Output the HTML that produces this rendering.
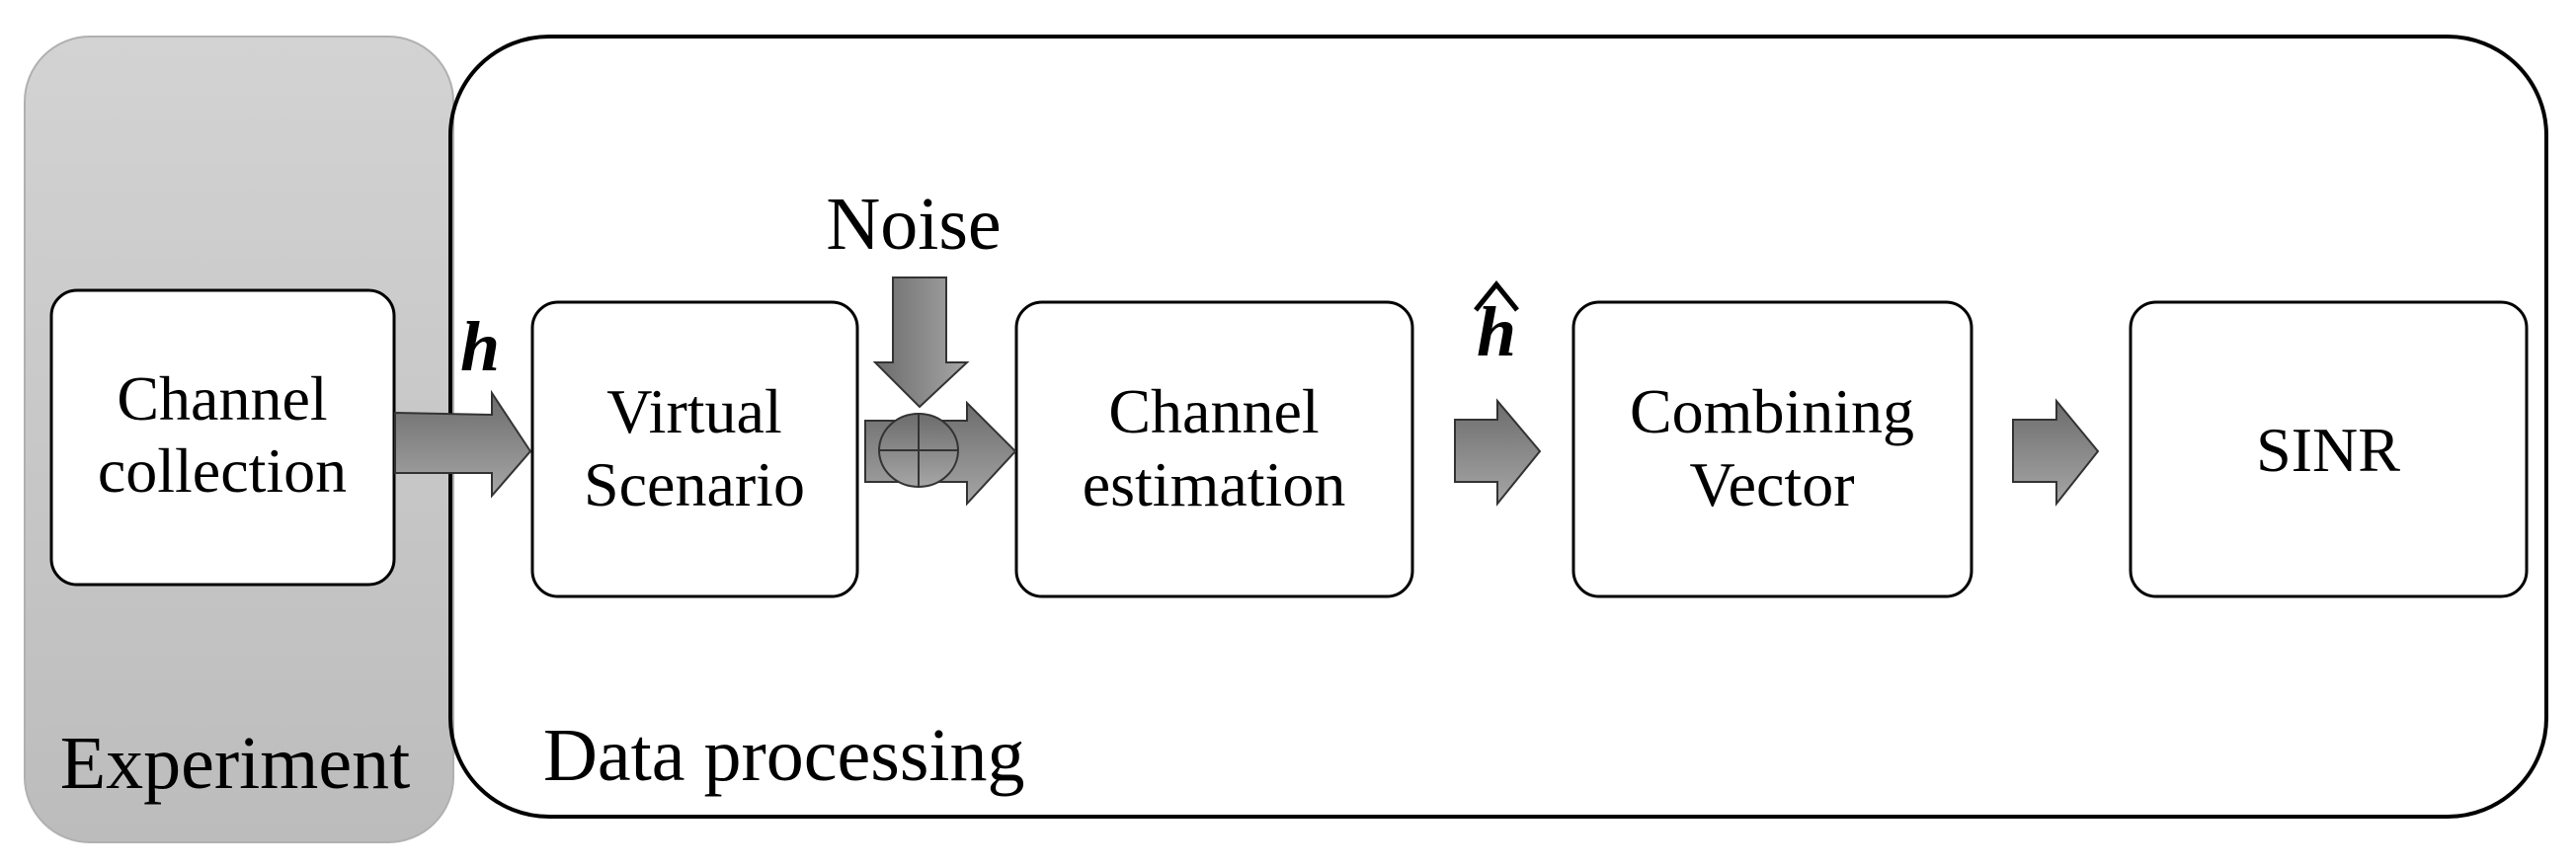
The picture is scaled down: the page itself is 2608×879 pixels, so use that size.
<!DOCTYPE html>
<html><head><meta charset="utf-8"><style>
html,body{margin:0;padding:0;background:#fff;}
svg{display:block;}
text{font-family:"Liberation Serif",serif;fill:#000;}
</style></head><body>
<svg width="2608" height="879" viewBox="0 0 2608 879" xmlns="http://www.w3.org/2000/svg">
<defs>
<linearGradient id="exp" x1="0" y1="0" x2="0" y2="1">
<stop offset="0" stop-color="#d3d3d3"/><stop offset="1" stop-color="#bcbcbc"/></linearGradient>
<linearGradient id="arr" x1="0" y1="0" x2="0" y2="1">
<stop offset="0" stop-color="#6c6c6c"/><stop offset="1" stop-color="#a6a6a6"/></linearGradient>
<linearGradient id="arrv" x1="0" y1="0" x2="1" y2="0">
<stop offset="0" stop-color="#6c6c6c"/><stop offset="1" stop-color="#a6a6a6"/></linearGradient>
</defs>
<rect x="25" y="37" width="434" height="816" rx="66" fill="url(#exp)" stroke="#b0b0b0" stroke-width="2"/>
<rect x="456" y="37" width="2122" height="790" rx="100" fill="none" stroke="#000" stroke-width="4"/>

<g fill="#fff" stroke="#000" stroke-width="3">
<rect x="52" y="294" width="347" height="298" rx="26"/>
<rect x="539" y="306" width="329" height="298" rx="26"/>
<rect x="1029" y="306" width="401" height="298" rx="26"/>
<rect x="1593" y="306" width="403" height="298" rx="26"/>
<rect x="2157" y="306" width="401" height="298" rx="26"/>
</g>

<g stroke="#333" stroke-width="2">
<polygon points="400,418 498,420 498,398 537,457 498,502 498,479 400,479" fill="url(#arr)"/>
<polygon points="904,281 958,281 958,367 979,367 931,412 886,367 904,367" fill="url(#arrv)"/>
<polygon points="876,426 979,426 979,408 1028,457 979,510 979,488 876,488" fill="url(#arr)"/>
<ellipse cx="930" cy="456" rx="40" ry="37" fill="url(#arr)"/>
<line x1="890" y1="456" x2="970" y2="456"/>
<line x1="930" y1="419" x2="930" y2="493"/>
<polygon points="1473,425 1516,425 1516,406 1559,457 1516,510 1516,488 1473,488" fill="url(#arr)"/>
<polygon points="2038,425 2082,425 2082,406 2124,457 2082,510 2082,488 2038,488" fill="url(#arr)"/>
</g>

<g font-size="64" text-anchor="middle">
<text x="225" y="425">Channel</text>
<text x="225" y="498">collection</text>
<text x="703" y="438">Virtual</text>
<text x="703" y="512">Scenario</text>
<text x="1229" y="438">Channel</text>
<text x="1229" y="512">estimation</text>
<text x="1794" y="438">Combining</text>
<text x="1794" y="512">Vector</text>
<text x="2357" y="477">SINR</text>
</g>
<text x="925" y="252" font-size="76" text-anchor="middle">Noise</text>
<text x="486" y="375" font-size="72" font-weight="bold" font-style="italic" text-anchor="middle">h</text>
<text x="1515" y="360" font-size="72" font-weight="bold" font-style="italic" text-anchor="middle">h</text>
<path d="M1494,314 L1515,288 L1536,314" fill="none" stroke="#000" stroke-width="5"/>
<text x="238" y="798" font-size="76" text-anchor="middle">Experiment</text>
<text x="550" y="790" font-size="76">Data processing</text>
</svg>
</body></html>
